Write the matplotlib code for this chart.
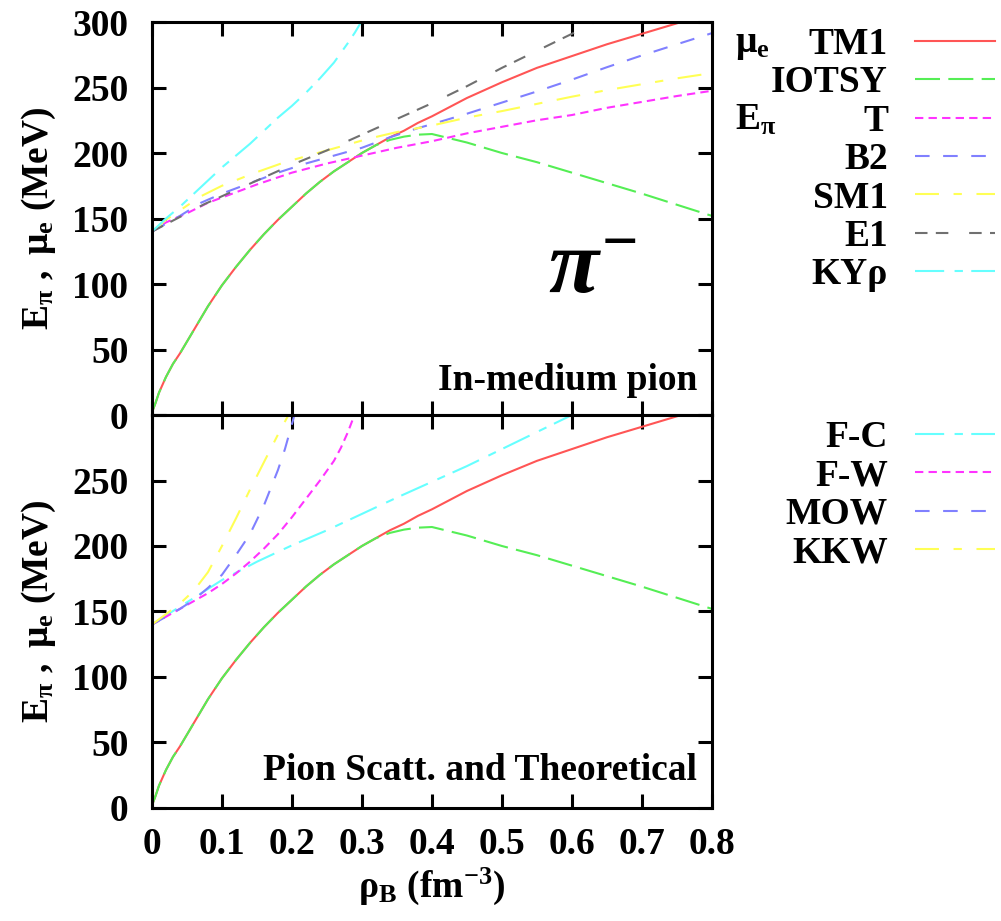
import matplotlib
matplotlib.use("Agg")
import matplotlib.pyplot as plt

# ---- dados (MeV vs fm^-3) ----
# potencial quimico do eletron
rho_mu = [0, 0.005, 0.01, 0.02, 0.03, 0.04, 0.05, 0.06, 0.08, 0.10, 0.12, 0.14, 0.16,
          0.18, 0.20, 0.22, 0.24, 0.26, 0.28, 0.30, 0.32, 0.34, 0.36, 0.38, 0.40,
          0.45, 0.50, 0.55, 0.60, 0.65, 0.70, 0.75, 0.80]
mu_tm1 = [2, 9, 17, 29, 39, 47, 56, 65, 83, 99, 113, 126, 138,
          149, 159, 169, 178, 186, 193, 200, 206, 212, 217, 223, 228,
          242, 254, 265, 274, 283, 291, 299, 307]
mu_iotsy = [2, 9, 17, 29, 39, 47, 56, 65, 83, 99, 113, 126, 138,
            149, 159, 169, 178, 186, 193, 200, 206, 210, 212.5, 214, 214.5,
            208, 200, 193, 185, 177, 169, 160.5, 152]

# energia do pion no meio (painel de cima)
rho_t = [0, 0.02, 0.05, 0.08, 0.10, 0.12, 0.15, 0.20, 0.25, 0.30, 0.35, 0.40, 0.45,
         0.50, 0.55, 0.60, 0.65, 0.70, 0.75, 0.80]
e_t = [140, 147, 154, 162, 166, 170, 176, 185, 192, 198, 204, 209, 215,
       220, 225, 229, 234.5, 239, 243.5, 247.5]

rho_b2 = [0, 0.02, 0.04, 0.07, 0.10, 0.14, 0.18, 0.22, 0.26, 0.30, 0.34, 0.38, 0.40,
          0.45, 0.50, 0.55, 0.60, 0.65, 0.70, 0.75, 0.80]
e_b2 = [140, 146, 152, 162, 169, 177, 185, 192, 198, 204, 212, 219, 222,
        230, 238.5, 247, 256, 265.5, 274.5, 283, 291.5]

rho_sm1 = [0, 0.02, 0.045, 0.07, 0.10, 0.145, 0.19, 0.23, 0.27, 0.31, 0.35, 0.40,
           0.45, 0.50, 0.55, 0.60, 0.65, 0.70, 0.75, 0.80]
e_sm1 = [140, 149, 158, 167, 175, 184.5, 193, 199, 205, 211, 216, 221,
         227, 232, 237.5, 243, 248, 252.5, 257, 261]

rho_e1 = [0, 0.025, 0.05, 0.075, 0.10, 0.15, 0.20, 0.25, 0.30, 0.35, 0.40, 0.45,
          0.50, 0.55, 0.60, 0.64]
e_e1 = [140, 147, 154, 161, 167, 179, 191, 202, 214, 226, 238, 251,
        265, 278, 291, 302]

rho_ky = [0, 0.02, 0.04, 0.06, 0.08, 0.10, 0.12, 0.14, 0.16, 0.18, 0.20, 0.22,
          0.24, 0.26, 0.28, 0.29, 0.30]
e_ky = [140, 150, 159, 169, 179, 189, 198, 207, 217, 227, 236, 246,
        257, 269, 284, 292, 301]

# painel de baixo: espalhamento de pions e teoricos
rho_fc = [0, 0.02, 0.05, 0.10, 0.15, 0.20, 0.25, 0.30, 0.35, 0.40, 0.45, 0.50,
          0.55, 0.60, 0.605]
e_fc = [140, 147, 157, 174, 188, 200.5, 212, 224.5, 237, 249, 261, 274,
        287, 300, 301]

rho_fw = [0, 0.02, 0.05, 0.08, 0.10, 0.12, 0.14, 0.16, 0.18, 0.20, 0.22, 0.24,
          0.26, 0.27, 0.28, 0.29]
e_fw = [140, 146, 155, 164, 171, 179, 188, 198, 209, 222, 236, 250,
        265, 275, 287, 301]

rho_mow = [0, 0.02, 0.04, 0.06, 0.08, 0.10, 0.12, 0.14, 0.16, 0.18, 0.19, 0.20, 0.204]
e_mow = [140, 146, 152, 159, 168, 178, 193, 209, 231, 258, 274, 293, 301]

rho_kkw = [0, 0.02, 0.04, 0.06, 0.08, 0.10, 0.12, 0.14, 0.16, 0.18, 0.196]
e_kkw = [140, 148, 156, 166, 180, 200, 221, 243, 264, 285, 301]

yticks = [0, 50, 100, 150, 200, 250, 300]
xticks = [0, 0.1, 0.2, 0.3, 0.4, 0.5, 0.6, 0.7, 0.8]
xtick_labels = ["0", "0.1", "0.2", "0.3", "0.4", "0.5", "0.6", "0.7", "0.8"]

# ---- estilo ----
plt.rcParams["font.family"] = ["Liberation Serif", "DejaVu Serif"]
plt.rcParams["font.weight"] = "bold"
plt.rcParams["mathtext.fontset"] = "custom"
plt.rcParams["mathtext.rm"] = "Liberation Serif:bold"
plt.rcParams["mathtext.it"] = "Liberation Serif:bold:italic"
plt.rcParams["mathtext.bf"] = "Liberation Serif:bold"

FS = 27
LW = 1.5
c_red, c_green, c_mag = "#ff5555", "#55ee55", "#ff33ff"
c_blue, c_yel, c_gray, c_cyan = "#8080ff", "#ffff55", "#707070", "#66ffff"
d_iotsy = (0, (12, 4))
d_t = (0, (4, 2.5))
d_b2 = (0, (7, 6.5))
d_sm1 = (0, (11.5, 7, 4, 7))
d_e1 = (0, (6, 4, 6, 10))
d_ky = (0, (14, 5, 4, 4))

fig = plt.figure(figsize=(10.01, 9.21), dpi=100)
ax1 = fig.add_axes([0.1518, 0.5494, 0.5594, 0.4267])
ax2 = fig.add_axes([0.1518, 0.1227, 0.5594, 0.4267])

# painel de cima
l_tm1, = ax1.plot(rho_mu, mu_tm1, color=c_red, lw=LW)
l_iotsy, = ax1.plot(rho_mu, mu_iotsy, color=c_green, lw=LW, linestyle=d_iotsy)
l_t, = ax1.plot(rho_t, e_t, color=c_mag, lw=LW, linestyle=d_t)
l_b2, = ax1.plot(rho_b2, e_b2, color=c_blue, lw=LW, linestyle=d_b2)
l_sm1, = ax1.plot(rho_sm1, e_sm1, color=c_yel, lw=LW, linestyle=d_sm1)
l_e1, = ax1.plot(rho_e1, e_e1, color=c_gray, lw=LW, linestyle=d_e1)
l_ky, = ax1.plot(rho_ky, e_ky, color=c_cyan, lw=LW, linestyle=d_ky)

# painel de baixo
ax2.plot(rho_mu, mu_tm1, color=c_red, lw=LW)
ax2.plot(rho_mu, mu_iotsy, color=c_green, lw=LW, linestyle=d_iotsy)
l_fc, = ax2.plot(rho_fc, e_fc, color=c_cyan, lw=LW, linestyle=d_ky)
l_fw, = ax2.plot(rho_fw, e_fw, color=c_mag, lw=LW, linestyle=d_t)
l_mow, = ax2.plot(rho_mow, e_mow, color=c_blue, lw=LW, linestyle=d_b2)
l_kkw, = ax2.plot(rho_kkw, e_kkw, color=c_yel, lw=LW, linestyle=d_sm1)

ylab = r"$\mathrm{E_{\pi}\ ,\ \mu_{e}\ (MeV)}$"
for ax in (ax1, ax2):
    ax.set_xlim(0, 0.8)
    ax.set_ylim(0, 300)
    ax.set_xticks(xticks)
    ax.set_yticks(yticks)
    ax.tick_params(direction="in", top=True, right=True, length=10, width=2.2,
                   labelsize=FS)
    ax.tick_params(axis="y", pad=17)
    ax.tick_params(axis="x", pad=14)
    for s in ax.spines.values():
        s.set_linewidth(2.2)
    ax.set_ylabel(ylab, fontsize=FS, labelpad=10)

ax1.set_xticklabels([])
ax2.set_xticklabels(xtick_labels)
ax2.set_yticklabels(["0", "50", "100", "150", "200", "250", ""])
ax2.set_xlabel(r"$\mathrm{\rho_{B}\ (fm^{-3})}$", fontsize=FS, labelpad=2)

ax1.text(0.779, 19, "In-medium pion", fontsize=FS, ha="right", va="baseline")
ax2.text(0.779, 21, "Pion Scatt. and Theoretical", fontsize=FS, ha="right", va="baseline")
ax1.text(0.566, 93, r"$\pi^{-}$", fontsize=66, ha="left", va="baseline")

# legendas
leg_kw = dict(loc="upper right", frameon=False, borderpad=0, borderaxespad=0,
              markerfirst=False, handlelength=2.13, handletextpad=0.72,
              labelspacing=0.09, fontsize=FS)
fig.legend([l_tm1, l_iotsy, l_t, l_b2, l_sm1, l_e1, l_ky],
           ["TM1", "IOTSY", "T", "B2", "SM1", "E1", "KY\u03c1"],
           bbox_to_anchor=(995 / 1001, 1 - 27 / 921), **leg_kw)
fig.legend([l_fc, l_fw, l_mow, l_kkw], ["F-C", "F-W", "MOW", "KKW"],
           bbox_to_anchor=(995 / 1001, 1 - 420 / 921), **leg_kw)
fig.text(735 / 1001, 1 - 52 / 921, r"$\mathrm{\mu_{e}}$", fontsize=FS, va="baseline")
fig.text(735 / 1001, 1 - 130 / 921, r"$\mathrm{E_{\pi}}$", fontsize=FS, va="baseline")

fig.savefig("out.png", dpi=100)
